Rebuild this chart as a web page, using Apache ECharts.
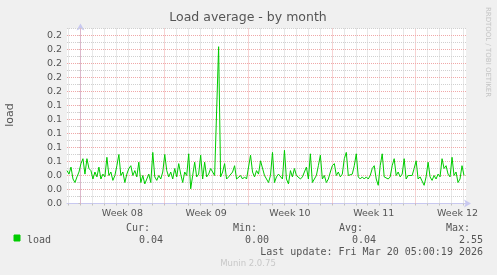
<!DOCTYPE html>
<html><head><meta charset="utf-8">
<script src="https://cdn.jsdelivr.net/npm/echarts@6/dist/echarts.min.js"></script>
<style>html,body{margin:0;padding:0;background:#f0f0f0}#c{width:497px;height:275px}</style>
</head><body><div id="c"></div><script>
// ---- data ----
const chartTitle = 'Load average - by month';
const yAxisName = 'load';
const seriesName = 'load';
// hours relative to Mon 16 Feb 2026 00:00
const startHour = -27;
const endHour = 773;
const sampleStepHours = 4;
const loadValues = [
0.047,0.042,0.052,0.035,0.030,0.038,0.045,0.057,0.064,0.042,
0.064,0.050,0.047,0.035,0.045,0.038,0.052,0.035,0.042,0.038,
0.066,0.040,0.045,0.033,0.040,0.054,0.070,0.040,0.045,0.030,
0.042,0.050,0.054,0.040,0.047,0.038,0.059,0.030,0.040,0.028,
0.035,0.042,0.030,0.073,0.038,0.033,0.040,0.035,0.045,0.070,
0.047,0.038,0.045,0.035,0.050,0.038,0.057,0.042,0.030,0.045,
0.040,0.071,0.021,0.040,0.059,0.038,0.042,0.069,0.035,0.059,
0.038,0.042,0.050,0.045,0.040,0.040,0.224,0.038,0.045,0.057,
0.035,0.038,0.040,0.045,0.054,0.035,0.033,0.040,0.035,0.038,
0.035,0.033,0.069,0.045,0.038,0.047,0.042,0.061,0.059,0.040,
0.035,0.030,0.040,0.073,0.030,0.038,0.042,0.040,0.035,0.076,
0.035,0.028,0.047,0.038,0.050,0.040,0.038,0.035,0.038,0.045,
0.052,0.035,0.071,0.030,0.035,0.040,0.054,0.069,0.035,0.040,
0.030,0.035,0.045,0.054,0.057,0.040,0.045,0.038,0.042,0.064,
0.073,0.040,0.038,0.042,0.054,0.071,0.038,0.035,0.038,0.035,
0.038,0.035,0.040,0.050,0.054,0.035,0.026,0.054,0.071,0.038,
0.040,0.035,0.038,0.054,0.064,0.040,0.045,0.038,0.042,0.064,
0.035,0.040,0.038,0.040,0.050,0.061,0.035,0.038,0.040,0.026,
0.038,0.059,0.038,0.033,0.040,0.035,0.042,0.038,0.064,0.050,
0.054,0.042,0.038,0.066,0.040,0.045,0.030,0.035,0.054,0.040
];
const weekLabels = ['Week 08','Week 09','Week 10','Week 11','Week 12'];
const weekLabelHours = [84,252,420,588,756];
const yMin = 0, yMax = 0.25, yStep = 0.01;
const yLabelValues = [0,0.02,0.04,0.06,0.08,0.10,0.12,0.14,0.16,0.18,0.20,0.22,0.24];
const statNames = ['Cur:','Min:','Avg:','Max:'];
const statValues = ['0.04','0.00','0.04','2.55'];
const lastUpdate = 'Last update: Fri Mar 20 05:00:19 2026';
const watermark = 'RRDTOOL / TOBI OETIKER';
const footer = 'Munin 2.0.75';

// ---- build ----
const dayHours = [];
for (let h = -24; h <= endHour; h += 24) dayHours.push(h);
const yGridValues = [];
for (let k = 1; k <= 25; k++) yGridValues.push(+(k * yStep).toFixed(2));
const seriesData = loadValues.map((v, i) => [startHour + i * sampleStepHours, v]);

const TXT = '#555555';
const AXIS = '#c8c8f0';
const MGRID = '#f0a8a8';
const GRID = '#d0d0d0';
const SANS = 'DejaVu Sans';

const chart = echarts.init(document.getElementById('c'), null, {renderer: 'canvas'});

const statHeadRight = [150, 257, 363, 470];
const statValRight = [163, 269, 376, 483];
const graphics = [
  {type:'text', x:248, y:18, style:{text:chartTitle, align:'center', verticalAlign:'middle', fill:TXT, font:'12.5px "DejaVu Sans"'}},
  {type:'text', x:10.5, y:115, rotation:Math.PI/2, style:{text:yAxisName, align:'center', verticalAlign:'middle', fill:TXT, font:'11px "DejaVu Sans"'}},
  {type:'text', x:487.5, y:52, rotation:-Math.PI/2, style:{text:watermark, align:'center', verticalAlign:'middle', fill:'#c4c4c4', font:'7px "DejaVu Sans"'}},
  {type:'rect', shape:{x:14, y:235, width:6, height:6}, style:{fill:'#00cc00', stroke:'#00cc00', lineWidth:1}},
  {type:'text', x:27, y:240, style:{text:seriesName, align:'left', verticalAlign:'middle', fill:TXT, font:'10px "DejaVu Sans Mono"'}},
  {type:'text', x:483, y:252, style:{text:lastUpdate, align:'right', verticalAlign:'middle', fill:TXT, font:'10px "DejaVu Sans Mono"'}},
  {type:'text', x:248, y:264, style:{text:footer, align:'center', verticalAlign:'middle', fill:'#c8c8c8', font:'8.5px "DejaVu Sans"'}}
];
statNames.forEach((n, i) => {
  graphics.push({type:'text', x:statHeadRight[i], y:228, style:{text:n, align:'right', verticalAlign:'middle', fill:TXT, font:'10px "DejaVu Sans Mono"'}});
  graphics.push({type:'text', x:statValRight[i], y:240, style:{text:statValues[i], align:'right', verticalAlign:'middle', fill:TXT, font:'10px "DejaVu Sans Mono"'}});
});

// Sunday Feb 15 is first day line; Mondays are week boundaries (major)
const dayColors = [GRID, MGRID, GRID, GRID, GRID, GRID, GRID];
const vLines = dayHours.map((h, i) => ({
  xAxis: h,
  lineStyle: {color: dayColors[i % 7], width: 1, type: [1, 1]}
}));
const hLines = yGridValues.map((v, i) => ({
  yAxis: v,
  lineStyle: {color: (i % 2 === 1) ? MGRID : GRID, width: 1, type: [1, 1]}
}));

chart.setOption({
  animation: false,
  backgroundColor: '#f0f0f0',
  grid: {left:67, right:31, top:28.5, bottom:71.5, show:true, backgroundColor:'#ffffff', borderWidth:0},
  xAxis: {
    type:'value', min:startHour, max:endHour,
    axisLine:{show:true, onZero:false, lineStyle:{color:AXIS, width:1}, symbol:['none','arrow'], symbolSize:[6,7], symbolOffset:[0,5]},
    axisTick:{show:true, customValues:dayHours, length:2, lineStyle:{color:'#c0c0c0'}},
    axisLabel:{show:true, customValues:weekLabelHours, formatter:v => weekLabels[weekLabelHours.indexOf(v)] || '', color:TXT, fontFamily:SANS, fontSize:9.5, margin:5},
    splitLine:{show:false}
  },
  yAxis: {
    type:'value', min:yMin, max:yMax, interval:yStep,
    axisLine:{show:true, lineStyle:{color:AXIS, width:1}, symbol:['none','arrow'], symbolSize:[6,7], symbolOffset:[0,5]},
    axisTick:{show:true, length:2, lineStyle:{color:'#c0c0c0'}},
    axisLabel:{
      formatter: v => yLabelValues.some(t => Math.abs(t - v) < 1e-9) ? v.toFixed(1) : '',
      color:TXT, fontFamily:SANS, fontSize:9.5, margin:5
    },
    splitLine:{show:false}
  },
  graphic: graphics,
  series: [{
    name: 'grid', type:'line', data: [], z: 1, silent:true,
    markLine: {silent:true, symbol:'none', z:1, label:{show:false}, animation:false, data: vLines.concat(hLines)}
  },{
    name: seriesName, type:'line', data: seriesData, z: 3,
    showSymbol:false, symbol:'none',
    lineStyle:{color:'#00cc00', width:1},
    silent:true
  }]
});
</script></body></html>
